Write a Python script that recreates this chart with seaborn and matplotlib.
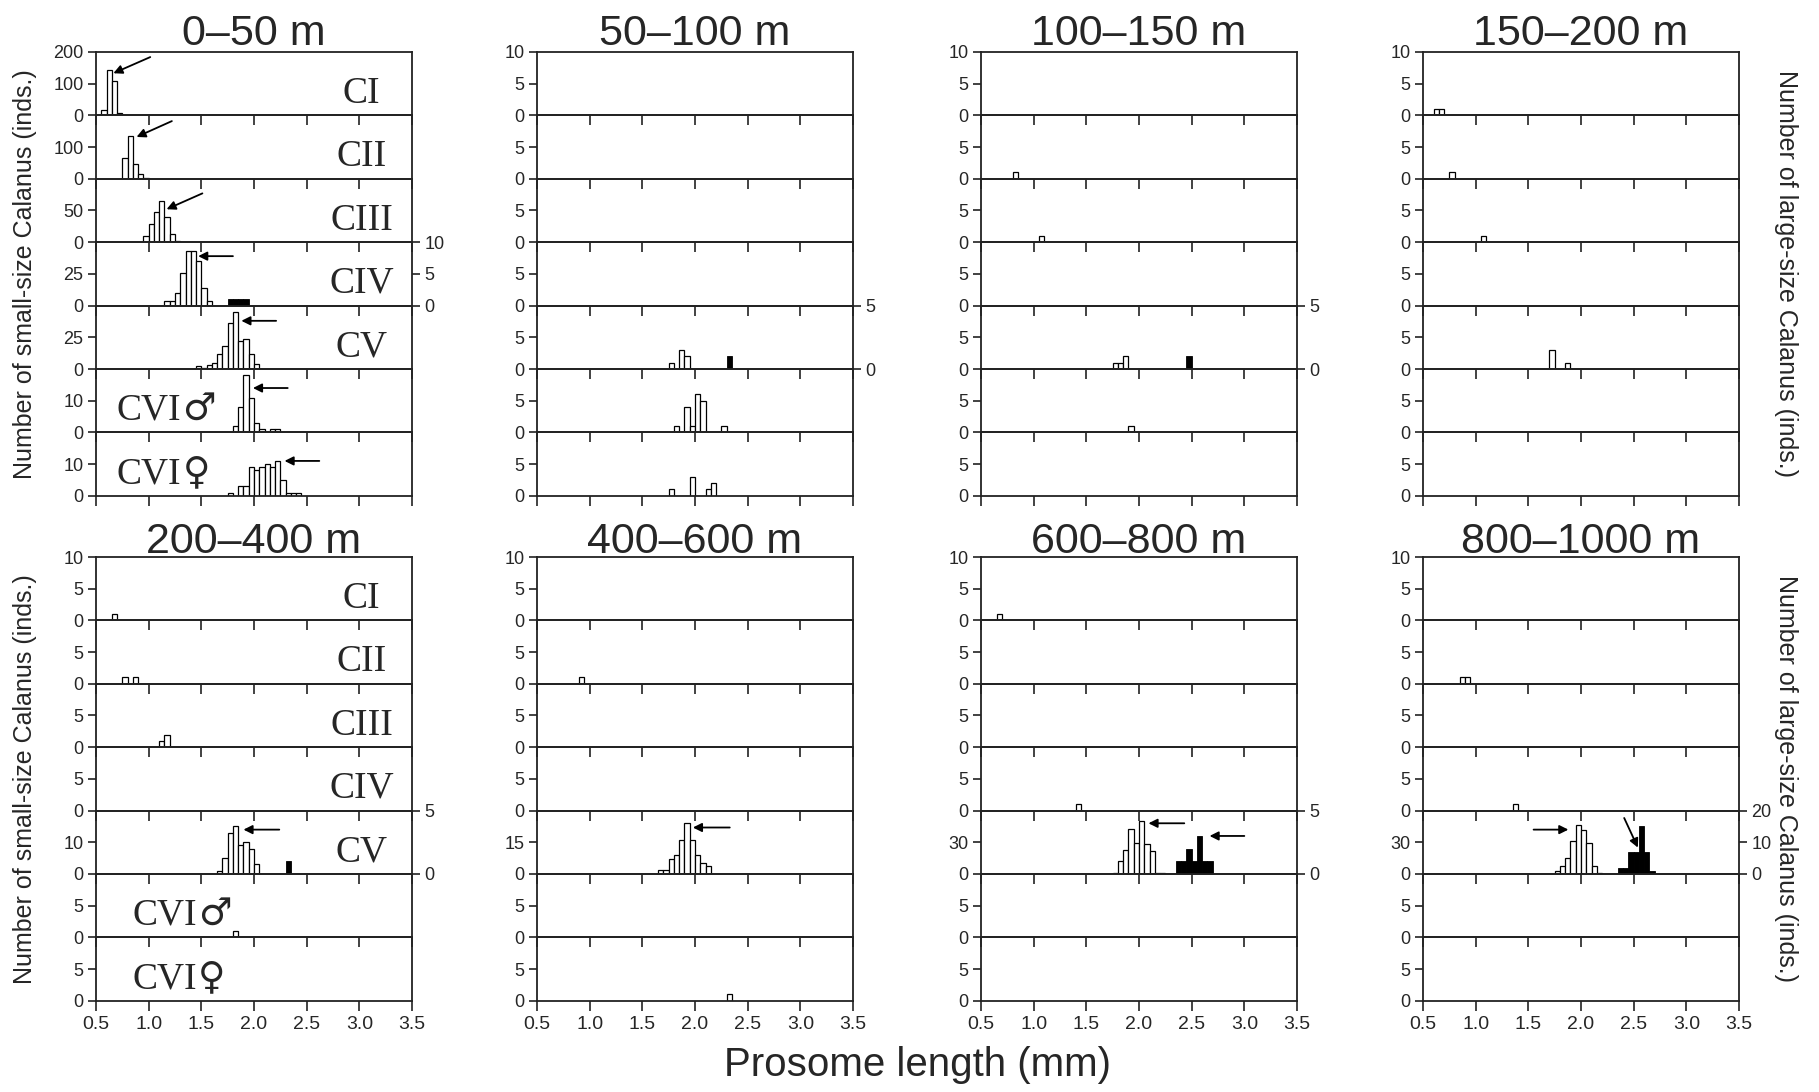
import numpy as np
import pandas as pd
import matplotlib
matplotlib.use("Agg")
import matplotlib.pyplot as plt
import seaborn as sns

sns.set_theme(style="ticks")
plt.rcParams['font.family'] = ['Liberation Sans', 'DejaVu Sans']

depths = ["0–50 m", "50–100 m", "100–150 m", "150–200 m",
          "200–400 m", "400–600 m", "600–800 m", "800–1000 m"]
stages = ["CI", "CII", "CIII", "CIV", "CV", "CVI♂", "CVI♀"]

# ---- small-size Calanus: prosome length class centre (mm) and number (inds.) ----
# 0-50 m
a_CI_len = [0.575, 0.625, 0.675, 0.725]
a_CI_n = [18, 143, 107, 6]
a_CII_len = [0.775, 0.825, 0.875, 0.925, 0.975]
a_CII_n = [67, 135, 48, 16, 2]
a_CIII_len = [0.975, 1.025, 1.075, 1.125, 1.175, 1.225, 1.275]
a_CIII_n = [10, 29, 47, 65, 39, 13, 2]
a_CIV_len = [1.175, 1.225, 1.275, 1.325, 1.375, 1.425, 1.475, 1.525, 1.575]
a_CIV_n = [4, 4, 10, 26, 43, 43, 35, 14, 4]
a_CV_len = [1.475, 1.525, 1.575, 1.625, 1.675, 1.725, 1.775, 1.825, 1.875, 1.925, 1.975, 2.025]
a_CV_n = [2, 1, 3, 5, 12, 18, 36, 45, 22, 24, 12, 4]
a_M_len = [1.825, 1.875, 1.925, 1.975, 2.025, 2.075, 2.125, 2.175, 2.225]
a_M_n = [2, 8, 18, 11, 3, 1, 0, 1, 1]
a_F_len = [1.775, 1.825, 1.875, 1.925, 1.975, 2.025, 2.075, 2.125, 2.175, 2.225, 2.275, 2.325, 2.375, 2.425]
a_F_n = [1, 0, 3, 3, 9, 8, 9, 10, 9, 11, 5, 1, 1, 1]
# 50-100 m
b_CV_len = [1.775, 1.875, 1.925]
b_CV_n = [1, 3, 2]
b_M_len = [1.825, 1.925, 1.975, 2.025, 2.075, 2.275]
b_M_n = [1, 4, 1, 6, 5, 1]
b_F_len = [1.775, 1.975, 2.125, 2.175]
b_F_n = [1, 3, 1, 2]
# 100-150 m
c_CII_len = [0.825]
c_CII_n = [1]
c_CIII_len = [1.075]
c_CIII_n = [1]
c_CV_len = [1.775, 1.825, 1.875]
c_CV_n = [1, 1, 2]
c_M_len = [1.925]
c_M_n = [1]
# 150-200 m
d_CI_len = [0.625, 0.675]
d_CI_n = [1, 1]
d_CII_len = [0.775]
d_CII_n = [1]
d_CIII_len = [1.075]
d_CIII_n = [1]
d_CV_len = [1.725, 1.875]
d_CV_n = [3, 1]
# 200-400 m
e_CI_len = [0.675]
e_CI_n = [1]
e_CII_len = [0.775, 0.875]
e_CII_n = [1, 1]
e_CIII_len = [1.125, 1.175]
e_CIII_n = [1, 2]
e_CV_len = [1.675, 1.725, 1.775, 1.825, 1.875, 1.925, 1.975, 2.025]
e_CV_n = [1, 5, 13, 15, 9, 10, 8, 3]
e_M_len = [1.825]
e_M_n = [1]
# 400-600 m
f_CII_len = [0.925]
f_CII_n = [1]
f_CV_len = [1.675, 1.725, 1.775, 1.825, 1.875, 1.925, 1.975, 2.025, 2.075, 2.125]
f_CV_n = [2, 2, 7, 9, 16, 24, 16, 9, 5, 4]
f_F_len = [2.325]
f_F_n = [1]
# 600-800 m
g_CI_len = [0.675]
g_CI_n = [1]
g_CIV_len = [1.425]
g_CIV_n = [1]
g_CV_len = [1.775, 1.825, 1.875, 1.925, 1.975, 2.025, 2.075, 2.125, 2.175, 2.225]
g_CV_n = [1, 12, 23, 43, 29, 50, 28, 22, 1, 1]
# 800-1000 m
h_CII_len = [0.875, 0.925]
h_CII_n = [1, 1]
h_CIV_len = [1.375]
h_CIV_n = [1]
h_CV_len = [1.775, 1.825, 1.875, 1.925, 1.975, 2.025, 2.075, 2.125, 2.175]
h_CV_n = [3, 8, 15, 31, 46, 42, 29, 8, 1]

# ---- large-size Calanus (right axis) ----
a_big_len = [1.775, 1.825, 1.875, 1.925]
a_big_n = [1, 1, 1, 1]
b_big_len = [2.325]
b_big_n = [1]
c_big_len = [2.475]
c_big_n = [1]
e_big_len = [2.325]
e_big_n = [1]
g_big_len = [2.375, 2.425, 2.475, 2.525, 2.575, 2.625, 2.675]
g_big_n = [1, 1, 2, 1, 3, 1, 1]
h_big_len = [2.375, 2.425, 2.475, 2.525, 2.575, 2.625, 2.675]
h_big_n = [2, 2, 7, 7, 15, 7, 1]

small_series = [
    ("0–50 m", "CI", a_CI_len, a_CI_n), ("0–50 m", "CII", a_CII_len, a_CII_n),
    ("0–50 m", "CIII", a_CIII_len, a_CIII_n), ("0–50 m", "CIV", a_CIV_len, a_CIV_n),
    ("0–50 m", "CV", a_CV_len, a_CV_n), ("0–50 m", "CVI♂", a_M_len, a_M_n),
    ("0–50 m", "CVI♀", a_F_len, a_F_n),
    ("50–100 m", "CV", b_CV_len, b_CV_n), ("50–100 m", "CVI♂", b_M_len, b_M_n),
    ("50–100 m", "CVI♀", b_F_len, b_F_n),
    ("100–150 m", "CII", c_CII_len, c_CII_n), ("100–150 m", "CIII", c_CIII_len, c_CIII_n),
    ("100–150 m", "CV", c_CV_len, c_CV_n), ("100–150 m", "CVI♂", c_M_len, c_M_n),
    ("150–200 m", "CI", d_CI_len, d_CI_n), ("150–200 m", "CII", d_CII_len, d_CII_n),
    ("150–200 m", "CIII", d_CIII_len, d_CIII_n), ("150–200 m", "CV", d_CV_len, d_CV_n),
    ("200–400 m", "CI", e_CI_len, e_CI_n), ("200–400 m", "CII", e_CII_len, e_CII_n),
    ("200–400 m", "CIII", e_CIII_len, e_CIII_n), ("200–400 m", "CV", e_CV_len, e_CV_n),
    ("200–400 m", "CVI♂", e_M_len, e_M_n),
    ("400–600 m", "CII", f_CII_len, f_CII_n), ("400–600 m", "CV", f_CV_len, f_CV_n),
    ("400–600 m", "CVI♀", f_F_len, f_F_n),
    ("600–800 m", "CI", g_CI_len, g_CI_n), ("600–800 m", "CIV", g_CIV_len, g_CIV_n),
    ("600–800 m", "CV", g_CV_len, g_CV_n),
    ("800–1000 m", "CII", h_CII_len, h_CII_n), ("800–1000 m", "CIV", h_CIV_len, h_CIV_n),
    ("800–1000 m", "CV", h_CV_len, h_CV_n),
]
large_series = [
    ("0–50 m", "CIV", a_big_len, a_big_n), ("50–100 m", "CV", b_big_len, b_big_n),
    ("100–150 m", "CV", c_big_len, c_big_n), ("200–400 m", "CV", e_big_len, e_big_n),
    ("600–800 m", "CV", g_big_len, g_big_n), ("800–1000 m", "CV", h_big_len, h_big_n),
]


def to_frame(series):
    rows = []
    for d, st, lens, ns in series:
        for l, n in zip(lens, ns):
            rows.append({"depth": d, "stage": st, "length": l, "n": n})
    return pd.DataFrame(rows)


small = to_frame(small_series)
large = to_frame(large_series)

# axis ranges
ymax_0_50 = [200, 200, 100, 50, 50, 20, 20]
cv_ymax = {"0–50 m": 50, "50–100 m": 10, "100–150 m": 10, "150–200 m": 10,
           "200–400 m": 20, "400–600 m": 30, "600–800 m": 60, "800–1000 m": 60}
right_axis = {("0–50 m", "CIV"): (10, [0, 5, 10]), ("50–100 m", "CV"): (5, [0, 5]),
              ("100–150 m", "CV"): (5, [0, 5]), ("200–400 m", "CV"): (5, [0, 5]),
              ("600–800 m", "CV"): (5, [0, 5]), ("800–1000 m", "CV"): (20, [0, 10, 20])}

# arrows marking the modes (tail x, tail y, head x, head y) in left-axis units
arrows = [
    ("0–50 m", "CI", 1.015, 184, 0.665, 133), ("0–50 m", "CII", 1.22, 182, 0.885, 132),
    ("0–50 m", "CIII", 1.51, 77, 1.17, 52), ("0–50 m", "CIV", 1.80, 39, 1.47, 39),
    ("0–50 m", "CV", 2.21, 38, 1.88, 38), ("0–50 m", "CVI♂", 2.32, 14, 1.99, 14),
    ("0–50 m", "CVI♀", 2.62, 11, 2.29, 11),
    ("200–400 m", "CV", 2.24, 14, 1.90, 14), ("400–600 m", "CV", 2.33, 22, 1.98, 22),
    ("600–800 m", "CV", 2.43, 48, 2.09, 48), ("600–800 m", "CV", 3.0, 36, 2.67, 36),
    ("800–1000 m", "CV", 1.55, 42, 1.88, 42), ("800–1000 m", "CV", 2.41, 53, 2.54, 25),
]

W, H = 1819, 1092
fig = plt.figure(figsize=(W / 100, H / 100), dpi=100)
col_left = [96, 537, 981, 1423]
pw = 316
row_top = [52, 557]
sh = 63.4
title_base = [45, 553]
spine_c = "#222222"
serif = ["Liberation Serif", "DejaVu Serif"]


def rect(x, y, w, h):
    return [x / W, 1 - (y + h) / H, w / W, h / H]


for i, d in enumerate(depths):
    r, c = divmod(i, 4)
    for j, st in enumerate(stages):
        ax = fig.add_axes(rect(col_left[c], row_top[r] + j * sh, pw, sh))
        ax.patch.set_visible(False)
        sub = small[(small.depth == d) & (small.stage == st)]
        if len(sub):
            sns.histplot(data=sub, x="length", weights="n", binwidth=0.05,
                         binrange=(sub.length.min() - 0.025, sub.length.max() + 0.025),
                         color="white", edgecolor="black", linewidth=0.9, alpha=1, ax=ax)
        if d == "0–50 m":
            ymax = ymax_0_50[j]
        elif st == "CV":
            ymax = cv_ymax[d]
        else:
            ymax = 10
        ax.set_xlim(0.5, 3.5)
        ax.set_ylim(0, ymax)
        ax.set_xticks(np.arange(0.5, 3.51, 0.5))
        yt = [0, ymax / 2] + ([ymax] if j == 0 else [])
        ax.set_yticks(yt)
        ax.set_yticklabels([f"{v:g}" for v in yt])
        ax.set_xlabel("")
        ax.set_ylabel("")
        ax.tick_params(axis="x", labelbottom=(j == 6 and r == 1), direction="out",
                       length=7, width=1.2, labelsize=14, color=spine_c, pad=4)
        ax.tick_params(axis="y", direction="out", length=6, width=1.2, labelsize=13,
                       color=spine_c, pad=3)
        for s in ax.spines.values():
            s.set_visible(True)
            s.set_linewidth(1.3)
            s.set_color(spine_c)

        if (d, st) in right_axis:
            rmax, rticks = right_axis[(d, st)]
            ax2 = ax.twinx()
            ax2.patch.set_visible(False)
            big = large[(large.depth == d) & (large.stage == st)]
            sns.histplot(data=big, x="length", weights="n", binwidth=0.05,
                         binrange=(big.length.min() - 0.025, big.length.max() + 0.025),
                         color="black", edgecolor="black", linewidth=0.6, alpha=1, ax=ax2)
            ax2.set_xlim(0.5, 3.5)
            ax2.set_ylim(0, rmax)
            ax2.set_yticks(rticks)
            ax2.set_yticklabels([f"{v:g}" for v in rticks])
            ax2.set_ylabel("")
            ax2.set_xlabel("")
            ax2.tick_params(axis="y", direction="out", length=6, width=1.2, labelsize=13,
                            color=spine_c, pad=3)
            for s in ax2.spines.values():
                s.set_visible(False)

        # stage labels only in the first column
        if c == 0:
            tr = ax.get_xaxis_transform()
            if st.startswith("CVI"):
                xs = 1.31 if r == 0 else 1.46
                ax.text(xs, 0.2, "CVI", transform=tr, ha="right", va="baseline",
                        fontsize=27, family=serif)
                ax.text(xs + 0.01, 0.2, st[-1], transform=tr, ha="left", va="baseline",
                        fontsize=27, family=["DejaVu Sans"])
            else:
                ax.text(3.02, 0.2, st, transform=tr, ha="center", va="baseline",
                        fontsize=27, family=serif)

        for ad, ast, tx, ty, hx, hy in arrows:
            if ad == d and ast == st:
                ax.annotate("", xy=(hx, hy), xytext=(tx, ty),
                            arrowprops=dict(arrowstyle="-|>", color="black", lw=1.3,
                                            mutation_scale=13, shrinkA=0, shrinkB=0),
                            annotation_clip=False)

    fig.text((col_left[c] + pw / 2) / W, 1 - title_base[r] / H, d, ha="center",
             va="baseline", fontsize=31)

for r in range(2):
    yc = 1 - (row_top[r] + 3.5 * sh) / H
    fig.text(25 / W, yc, "Number of small-size Calanus (inds.)", rotation=90,
             ha="center", va="center", fontsize=18)
    fig.text(1786 / W, yc, "Number of large-size Calanus (inds.)", rotation=270,
             ha="center", va="center", fontsize=18)

fig.text(917 / W, 1 - 1076 / H, "Prosome length (mm)", ha="center", va="baseline",
         fontsize=29)

fig.savefig("out.png", dpi=100, facecolor="white")
